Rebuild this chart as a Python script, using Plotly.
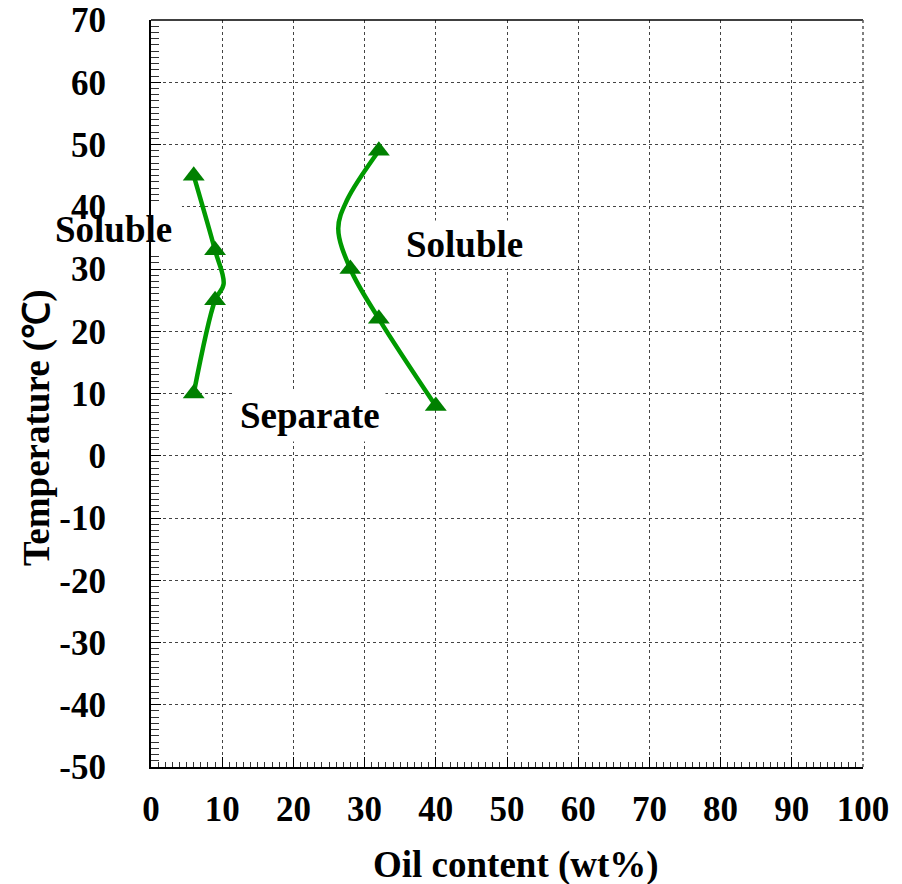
import plotly.graph_objects as go

# ---- data ----
left_pts_x = [6, 9, 9, 6]
left_pts_y = [45, 33, 25, 10]
right_pts_x = [32, 28, 32, 40]
right_pts_y = [49, 30, 22, 8]

# boundary curves
left_curve_x = [6, 9, 10.2, 9, 6]
left_curve_y = [45, 33, 27.6, 25, 10]
right_curve_x = [32, 27.5, 26.3, 28, 32, 40]
right_curve_y = [49, 41, 36.5, 30, 22, 8]

x_ticks = [0, 10, 20, 30, 40, 50, 60, 70, 80, 90, 100]
y_ticks = [-50, -40, -30, -20, -10, 0, 10, 20, 30, 40, 50, 60, 70]

labels = ["Soluble", "Soluble", "Separate"]
x_title = "Oil content (wt%)"
y_title = "Temperature (℃)"

LINE_C = "#009a00"
MARK_C = "#008000"
FONT = "Liberation Serif, Times New Roman, serif"

fig = go.Figure()
for cx, cy in [(left_curve_x, left_curve_y), (right_curve_x, right_curve_y)]:
    fig.add_trace(go.Scatter(x=cx, y=cy, mode="lines",
                             line=dict(color=LINE_C, width=4.5, shape="spline", smoothing=1.0),
                             showlegend=False, hoverinfo="skip"))
for px, py in [(left_pts_x, left_pts_y), (right_pts_x, right_pts_y)]:
    fig.add_trace(go.Scatter(x=px, y=py, mode="markers",
                             marker=dict(symbol="triangle-up", size=19, color=MARK_C,
                                         line=dict(width=0)),
                             showlegend=False))

axis_common = dict(
    showline=True, linecolor="black", linewidth=2,
    showgrid=True, gridcolor="#444444", gridwidth=1, griddash="dot",
    ticks="inside", ticklen=10, tickcolor="black", tickwidth=1,
    zeroline=False,
    tickfont=dict(family=FONT, size=35, color="black", weight="bold"),
)

fig.update_xaxes(range=[0, 100], tickvals=x_ticks, ticktext=[str(v) for v in x_ticks],
                 minor=dict(dtick=1, ticks="inside", ticklen=5, tickcolor="#333333", showgrid=False),
                 ticklabelstandoff=10,
                 **axis_common)
fig.update_yaxes(range=[-50, 70], tickvals=y_ticks, ticktext=[str(v) for v in y_ticks],
                 minor=dict(dtick=1, ticks="inside", ticklen=8, tickcolor="#333333", showgrid=False),
                 ticklabelstandoff=36,
                 **axis_common)

# top and right frame lines
fig.add_shape(type="line", xref="paper", yref="paper", x0=0, x1=1, y0=1, y1=1,
              line=dict(color="black", width=1.5))
fig.add_shape(type="line", xref="paper", yref="paper", x0=1, x1=1, y0=0, y1=1,
              line=dict(color="#555555", width=1.5, dash="dot"))
# white patch behind the left label where it crosses the axis
fig.add_shape(type="rect", xref="x", yref="y", x0=-0.4, x1=4.35, y0=32.25, y1=40.6,
              fillcolor="white", line=dict(width=0), layer="above")

ann_font = dict(family=FONT, size=37, color="black", weight="bold")
fig.add_annotation(x=-0.053, y=36.4, xref="paper", yref="y", text=labels[0],
                   xanchor="center", yanchor="middle", showarrow=False, font=ann_font)
fig.add_annotation(x=44.1, y=33.9, xref="x", yref="y", text=labels[1],
                   xanchor="center", yanchor="middle",
                   showarrow=False, font=ann_font, bgcolor="white", borderpad=3)
fig.add_annotation(x=22.3, y=6.5, xref="x", yref="y", text=labels[2],
                   xanchor="center", yanchor="middle",
                   showarrow=False, font=ann_font, bgcolor="white", borderpad=5)

# axis titles
fig.add_annotation(x=0.5126, y=-0.131, xref="paper", yref="paper", text=x_title,
                   xanchor="center", yanchor="middle", showarrow=False, font=ann_font)
fig.add_annotation(x=-0.160, y=0.454, xref="paper", yref="paper", text=y_title,
                   textangle=-90, xanchor="center", yanchor="middle", showarrow=False,
                   font=ann_font)

fig.update_layout(
    width=902, height=884,
    margin=dict(l=151, r=39, t=20, b=117, autoexpand=False),
    plot_bgcolor="white", paper_bgcolor="white",
    font=dict(family=FONT, color="black"),
)

fig.write_html("out.html", config={"displayModeBar": False},
               post_script="document.body.style.margin='0px';")
